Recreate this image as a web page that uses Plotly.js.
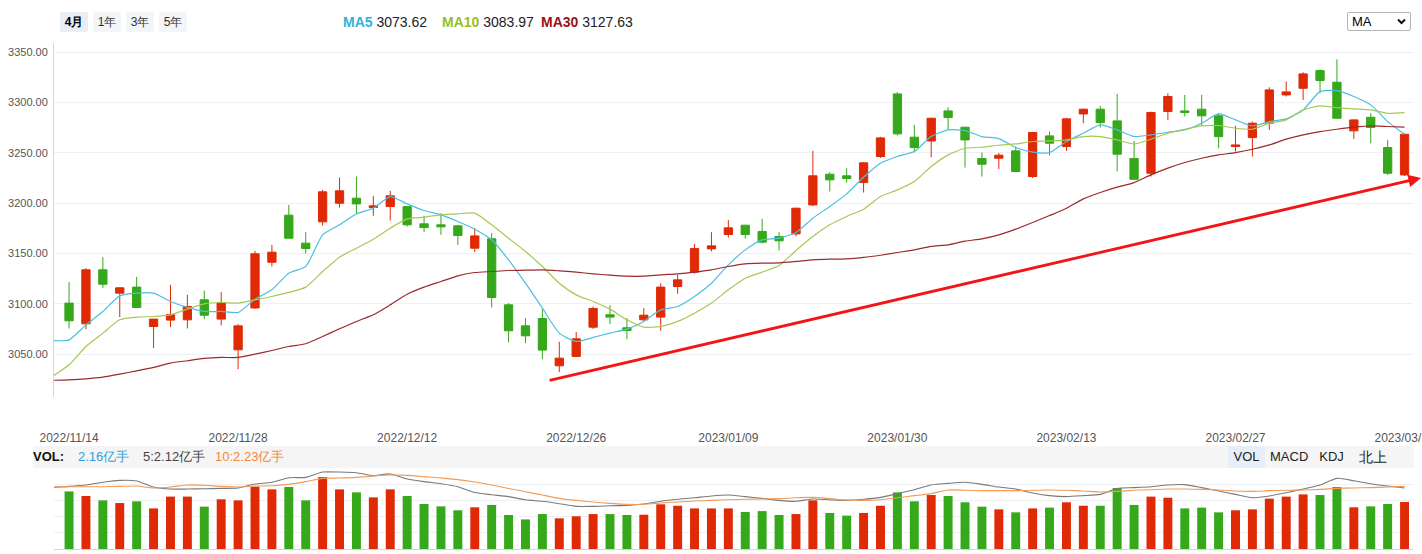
<!DOCTYPE html>
<html><head><meta charset="utf-8">
<script src="https://cdn.plot.ly/plotly-3.0.1.min.js"></script>
<style>
body{margin:0;background:#fff;font-family:"Liberation Sans",Arial,sans-serif;}
#wrap{position:relative;width:1422px;height:554px;overflow:hidden;}
#chart{position:absolute;left:0;top:0;width:1422px;height:554px;}
.ov{position:absolute;z-index:5;white-space:nowrap;}
.btn{top:12px;height:20px;line-height:20px;width:28px;text-align:center;font-size:12px;color:#333;background:#f4f5f7;border-radius:2px;}
.btn.on{background:#e8edf6;font-weight:bold;color:#000;}
.ma{top:14px;font-size:14px;color:#222;}
.ma b{font-weight:bold;}
#volbar{left:33px;top:446px;width:1381px;height:22px;background:#f5f5f5;}
.vt{top:446px;height:22px;line-height:22px;font-size:13px;}
.tb{top:446px;height:22px;line-height:22px;font-size:13px;color:#222;text-align:center;background:#f5f5f5;}
#sel{left:1347px;top:12px;width:62px;height:17px;border:1px solid #b5b5b5;border-radius:2px;background:#fff;font-size:13px;line-height:17px;}
</style></head>
<body>
<div id="wrap">
<div id="chart"></div>
<div class="ov btn on" style="left:60px;">4月</div>
<div class="ov btn" style="left:93px;">1年</div>
<div class="ov btn" style="left:126px;">3年</div>
<div class="ov btn" style="left:159px;">5年</div>
<div class="ov ma" style="left:343px;"><b style="color:#2fb2dc">MA5</b> 3073.62</div>
<div class="ov ma" style="left:442px;"><b style="color:#96c11f">MA10</b> 3083.97</div>
<div class="ov ma" style="left:541px;"><b style="color:#9b1218">MA30</b> 3127.63</div>
<div class="ov" id="sel"><span style="position:absolute;left:4px;top:0;">MA</span>
<svg style="position:absolute;left:49px;top:5px" width="9" height="7" viewBox="0 0 9 7"><path d="M1 1.5 L4.5 5 L8 1.5" stroke="#111" stroke-width="2" fill="none"/></svg></div>
<div class="ov" id="volbar"></div>
<div class="ov vt" style="left:33px;font-weight:bold;color:#111;">VOL:</div>
<div class="ov vt" style="left:78px;color:#2ea3dc;">2.16亿手</div>
<div class="ov vt" style="left:143px;color:#444;">5:2.12亿手</div>
<div class="ov vt" style="left:215px;color:#f08a3c;">10:2.23亿手</div>
<div class="ov tb" style="left:1228px;width:37px;background:#e6eef8;">VOL</div>
<div class="ov tb" style="left:1270px;width:38px;">MACD</div>
<div class="ov tb" style="left:1313px;width:37px;">KDJ</div>
<div class="ov tb" style="left:1354px;width:38px;font-size:14px;">北上</div>
</div>
<script>
// ---- data ----
const dates = ["2022/11/14","2022/11/15","2022/11/16","2022/11/17","2022/11/18","2022/11/21","2022/11/22","2022/11/23","2022/11/24","2022/11/25","2022/11/28","2022/11/29","2022/11/30","2022/12/01","2022/12/02","2022/12/05","2022/12/06","2022/12/07","2022/12/08","2022/12/09","2022/12/12","2022/12/13","2022/12/14","2022/12/15","2022/12/16","2022/12/19","2022/12/20","2022/12/21","2022/12/22","2022/12/23","2022/12/26","2022/12/27","2022/12/28","2022/12/29","2022/12/30","2023/01/03","2023/01/04","2023/01/05","2023/01/06","2023/01/09","2023/01/10","2023/01/11","2023/01/12","2023/01/13","2023/01/16","2023/01/17","2023/01/18","2023/01/19","2023/01/20","2023/01/30","2023/01/31","2023/02/01","2023/02/02","2023/02/03","2023/02/06","2023/02/07","2023/02/08","2023/02/09","2023/02/10","2023/02/13","2023/02/14","2023/02/15","2023/02/16","2023/02/17","2023/02/20","2023/02/21","2023/02/22","2023/02/23","2023/02/24","2023/02/27","2023/02/28","2023/03/01","2023/03/02","2023/03/03","2023/03/06","2023/03/07","2023/03/08","2023/03/09","2023/03/10","2023/03/13"];
const tickDates = ["2022/11/14","2022/11/28","2022/12/12","2022/12/26","2023/01/09","2023/01/30","2023/02/13","2023/02/27","2023/03/13"];

const open = [3100.7,3080.1,3133.8,3110.6,3116.6,3077.5,3083.8,3084.1,3104.0,3084.8,
3054.3,3095.9,3141.3,3188.1,3160.3,3181.5,3200.0,3205.0,3195.7,3196.7,
3196.7,3179.5,3178.5,3177.5,3155.3,3164.6,3099.0,3078.1,3085.4,3038.4,
3047.7,3076.8,3089.1,3076.2,3084.1,3086.8,3117.2,3131.5,3154.6,3168.9,
3178.1,3171.9,3166.9,3169.5,3198.3,3228.8,3227.2,3220.5,3246.4,3308.6,
3265.6,3261.9,3291.7,3275.5,3244.4,3244.7,3252.0,3226.5,3266.9,3256.3,
3288.7,3293.4,3281.8,3244.4,3229.8,3291.1,3291.7,3293.4,3286.8,3256.3,
3265.2,3279.5,3307.6,3314.2,3331.8,3320.2,3271.9,3285.4,3255.3,3228.1];
const high = [3121.5,3135.4,3146.4,3116.2,3126.8,3085.0,3118.9,3108.9,3113.2,3111.6,
3079.8,3152.6,3158.6,3198.3,3171.2,3213.2,3225.5,3226.5,3207.3,3212.3,
3197.2,3187.4,3190.0,3178.5,3175.2,3170.2,3100.7,3085.8,3095.7,3062.3,
3071.9,3097.4,3098.7,3085.8,3095.7,3120.5,3128.8,3159.6,3171.2,3183.4,
3178.5,3184.4,3171.2,3195.5,3252.0,3230.8,3234.8,3241.0,3266.0,3310.3,
3277.8,3285.0,3295.4,3276.0,3250.3,3250.0,3256.3,3271.0,3271.2,3284.8,
3294.0,3296.7,3308.6,3261.9,3291.0,3309.3,3307.6,3307.6,3289.4,3276.8,
3281.1,3315.2,3320.9,3330.1,3333.1,3343.0,3283.5,3289.4,3262.9,3269.0];
const low = [3075.5,3074.8,3115.6,3086.8,3096.0,3056.0,3076.8,3075.5,3084.8,3078.5,
3035.0,3095.0,3137.1,3165.0,3150.0,3177.8,3195.7,3190.1,3187.4,3182.8,
3176.8,3171.2,3168.5,3158.6,3151.3,3096.4,3061.6,3060.9,3045.0,3032.1,
3047.0,3075.0,3079.8,3064.9,3083.0,3073.2,3109.9,3130.0,3152.0,3165.9,
3164.8,3160.0,3153.0,3167.0,3197.0,3211.6,3220.5,3210.6,3245.0,3267.2,
3250.7,3245.7,3272.8,3235.4,3226.5,3233.8,3231.0,3225.0,3247.4,3252.0,
3279.5,3275.2,3231.5,3223.0,3226.5,3282.8,3286.1,3276.8,3254.6,3251.3,
3246.4,3272.8,3306.0,3302.6,3309.3,3284.0,3263.9,3259.6,3228.0,3227.0];
const close = [3083.1,3133.8,3119.5,3115.9,3096.4,3084.8,3089.3,3097.4,3088.7,3101.0,
3078.1,3149.7,3151.3,3165.2,3155.0,3211.3,3212.3,3199.3,3197.4,3207.3,
3178.5,3175.8,3176.5,3167.9,3167.5,3106.3,3073.2,3068.2,3054.0,3046.0,
3065.2,3095.4,3086.8,3073.5,3088.7,3116.6,3123.8,3155.0,3157.6,3175.5,
3168.9,3161.3,3162.6,3195.0,3227.2,3223.2,3224.5,3240.1,3264.9,3268.9,
3255.3,3284.4,3285.1,3262.9,3238.7,3247.7,3231.5,3270.2,3259.6,3283.8,
3293.4,3280.1,3248.7,3223.8,3290.1,3306.0,3290.1,3286.8,3266.2,3257.9,
3279.5,3312.6,3310.6,3328.5,3321.9,3284.4,3282.8,3275.2,3229.8,3268.5];

// moving-average lines as drawn (first value = previous session 2022/11/11)
const ma5 = [3063.5,3064.2,3079.1,3092.4,3107.9,3110.6,3110.6,3102.3,3096.4,3092.4,3092.4,
3091.4,3104.6,3113.9,3130.5,3137.1,3168.5,3178.5,3189.4,3195.0,3206.6,
3199.3,3192.7,3188.4,3181.8,3174.2,3163.6,3143.7,3120.5,3095.7,3070.9,
3062.6,3066.6,3070.9,3074.8,3082.5,3094.0,3097.4,3107.3,3120.5,3138.7,
3153.6,3163.6,3165.2,3170.9,3185.1,3196.7,3209.3,3225.8,3239.7,3246.4,
3251.3,3266.2,3272.8,3272.1,3266.2,3264.2,3255.3,3250.7,3250.3,3261.3,
3269.5,3277.8,3272.8,3266.2,3267.9,3270.5,3272.8,3279.5,3288.7,3282.8,
3276.8,3281.1,3283.8,3292.7,3310.9,3311.9,3306.0,3297.7,3281.1,3268.5];
const ma10 = [3027.5,3039.4,3057.6,3070.9,3084.1,3086.8,3087.4,3089.1,3094.7,3100.0,3101.3,
3100.7,3104.0,3107.3,3111.3,3116.6,3132.1,3146.4,3155.3,3164.2,3175.2,
3184.4,3186.1,3188.4,3189.4,3190.1,3178.5,3165.2,3152.0,3137.1,3120.5,
3108.9,3102.3,3094.7,3084.1,3076.8,3077.5,3082.5,3090.7,3100.7,3113.9,
3125.5,3131.5,3138.1,3153.0,3166.9,3178.5,3186.8,3194.0,3206.6,3213.2,
3221.5,3236.4,3248.0,3254.6,3255.6,3257.6,3258.9,3261.3,3261.9,3262.9,
3266.2,3266.2,3262.9,3258.9,3263.6,3269.5,3273.5,3276.8,3277.2,3274.5,
3273.5,3279.5,3282.8,3292.7,3296.7,3295.0,3293.7,3292.7,3289.4,3290.1];
const ma30 = [3024.0,3024.5,3025.5,3027.2,3030.1,3033.4,3036.8,3041.1,3043.4,3045.7,3046.7,
3046.7,3050.0,3053.6,3057.6,3060.3,3067.5,3075.2,3082.5,3089.1,3099.0,
3109.6,3116.6,3122.2,3127.8,3131.1,3132.1,3133.1,3133.4,3133.8,3132.8,
3131.5,3129.8,3128.5,3127.5,3127.5,3128.8,3129.8,3131.5,3133.8,3137.1,
3139.7,3140.4,3140.7,3142.1,3143.7,3144.4,3144.7,3146.1,3148.3,3151.0,
3153.6,3157.0,3158.6,3162.3,3164.6,3168.5,3174.2,3180.8,3187.7,3195.0,
3204.3,3210.6,3215.9,3220.5,3228.1,3234.8,3240.4,3244.7,3248.0,3250.3,
3253.6,3257.9,3263.6,3267.9,3271.2,3273.5,3275.5,3276.8,3276.2,3275.5];

// volume (亿手)
const volume = [3.66,3.37,3.09,2.92,3.03,2.58,3.33,3.33,2.69,3.16,
3.09,3.96,3.79,3.94,3.09,4.57,3.79,3.60,3.28,3.79,
3.37,2.86,2.71,2.46,2.65,2.80,2.16,1.88,2.22,1.95,
2.08,2.22,2.22,2.16,2.18,2.84,2.75,2.58,2.58,2.58,
2.35,2.41,2.16,2.22,3.09,2.29,2.12,2.29,2.75,3.60,
3.03,3.43,3.37,2.97,2.69,2.52,2.33,2.58,2.63,2.97,
2.75,2.75,3.88,2.80,3.33,3.26,2.58,2.63,2.33,2.46,
2.52,3.20,3.33,3.47,3.43,3.94,2.65,2.71,2.86,2.99];
const volMa5 = [3.92,3.98,4.07,4.24,4.36,4.32,3.94,3.81,3.81,3.83,3.85,
3.88,4.13,4.24,4.53,4.55,4.89,4.89,4.85,4.66,4.77,
4.45,4.28,4.15,3.96,3.59,3.45,3.33,3.13,3.03,2.88,
2.71,2.71,2.75,2.77,2.86,3.03,3.16,3.26,3.37,3.43,
3.33,3.22,3.09,3.03,3.18,3.13,3.09,3.16,3.28,3.52,
3.77,4.07,4.17,4.24,4.11,3.94,3.81,3.56,3.39,3.33,
3.39,3.47,3.85,3.90,3.96,4.07,4.09,3.90,3.69,3.47,
3.26,3.37,3.58,3.81,4.07,4.49,4.34,4.15,4.00,3.88];
const volMa10 = [3.96,3.96,3.96,3.96,3.98,4.00,3.88,3.94,4.07,4.05,3.98,
3.94,4.00,4.02,4.11,4.28,4.49,4.51,4.55,4.64,4.70,
4.68,4.60,4.51,4.41,4.26,4.07,3.85,3.64,3.43,3.22,
3.09,2.99,2.90,2.84,2.84,2.92,2.99,3.05,3.09,3.13,
3.16,3.18,3.20,3.26,3.28,3.20,3.11,3.09,3.13,3.26,
3.39,3.52,3.75,3.73,3.71,3.71,3.71,3.73,3.75,3.73,
3.69,3.62,3.66,3.73,3.77,3.81,3.81,3.79,3.75,3.69,
3.66,3.71,3.73,3.75,3.79,3.85,3.88,3.90,3.94,3.98];

// trend arrow annotation (session index, price)
const arrowFrom = {i: 28.34, price: 3023.6};
const arrowTo = {i: 80.0, price: 3225.1};

// ---- build ----
const UP = '#e02a05', DOWN = '#35a81b';
const idx = dates.map((d, i) => i);
const lineX = [-1].concat(idx);
const volColors = idx.map(i => close[i] >= open[i] ? UP : DOWN);
const tickvals = tickDates.map(d => dates.indexOf(d));

const W = 1422, H = 554, M = {l: 54, r: 9, t: 43, b: 5};
const plotW = W - M.l - M.r, plotH = H - M.t - M.b;
const xRange = [-0.89, 79.5];
const yRange = [3007.4, 3359.2];
const yDom = [0.3004, 1];
const vRange = [0, 5.02];

const toPaperX = i => (i - xRange[0]) / (xRange[1] - xRange[0]);
const toPaperY = p => yDom[0] + (p - yRange[0]) / (yRange[1] - yRange[0]) * (yDom[1] - yDom[0]);
const pxX = plotW / (xRange[1] - xRange[0]);
const pxY = plotH * (yDom[1] - yDom[0]) / (yRange[1] - yRange[0]);

const font = "Liberation Sans, Arial, sans-serif";
const traces = [
  {type: 'candlestick', x: idx, open: open, high: high, low: low, close: close,
   xaxis: 'x', yaxis: 'y', whiskerwidth: 0,
   increasing: {line: {color: UP, width: 1}, fillcolor: UP},
   decreasing: {line: {color: DOWN, width: 1}, fillcolor: DOWN},
   hoverinfo: 'skip'},
  {type: 'scatter', mode: 'lines', x: lineX, y: ma5, line: {color: '#4cbfe0', width: 1.2, shape: 'spline', smoothing: 0.6}, hoverinfo: 'skip'},
  {type: 'scatter', mode: 'lines', x: lineX, y: ma10, line: {color: '#a5c954', width: 1.2, shape: 'spline', smoothing: 0.6}, hoverinfo: 'skip'},
  {type: 'scatter', mode: 'lines', x: lineX, y: ma30, line: {color: '#9c2a2c', width: 1.2, shape: 'spline', smoothing: 0.6}, hoverinfo: 'skip'},
  {type: 'bar', x: idx, y: volume, xaxis: 'x2', yaxis: 'y2', width: 0.53,
   marker: {color: volColors, line: {width: 0}}, hoverinfo: 'skip'},
  {type: 'scatter', mode: 'lines', x: lineX, y: volMa5, xaxis: 'x2', yaxis: 'y2', line: {color: '#7a7a7a', width: 1.1, shape: 'spline', smoothing: 0.6}, hoverinfo: 'skip'},
  {type: 'scatter', mode: 'lines', x: lineX, y: volMa10, xaxis: 'x2', yaxis: 'y2', line: {color: '#f39a55', width: 1.1, shape: 'spline', smoothing: 0.6}, hoverinfo: 'skip'}
];

const layout = {
  width: W, height: H, margin: M, showlegend: false,
  paper_bgcolor: '#fff', plot_bgcolor: '#fff',
  font: {family: font, size: 11, color: '#555'},
  xaxis: {range: xRange, anchor: 'y', domain: [0, 1], rangeslider: {visible: false},
    tickmode: 'array', tickvals: tickvals, ticktext: tickDates, ticklabeloverflow: 'allow',
    showgrid: false, showline: false, zeroline: false, ticks: '',
    ticklabelstandoff: 32, tickfont: {size: 12, color: '#555', family: font}},
  yaxis: {range: yRange, domain: yDom, anchor: 'x',
    tickmode: 'array', tickvals: [3050, 3100, 3150, 3200, 3250, 3300, 3350],
    tickformat: '.2f', showline: true, linecolor: '#ccd6eb', linewidth: 1,
    gridcolor: '#eef0f3', zeroline: false, ticks: '', ticklabelstandoff: 3,
    tickfont: {size: 11, color: '#555', family: font}},
  xaxis2: {range: xRange, anchor: 'y2', domain: [0, 1], showticklabels: false,
    showgrid: false, showline: true, linecolor: '#ccd6eb', zeroline: false, ticks: ''},
  yaxis2: {range: vRange, domain: [0, 0.1561], anchor: 'x2', tick0: 0, dtick: 1.03,
    showticklabels: false, gridcolor: '#eef0f3', zeroline: false, showline: false, ticks: ''},
  annotations: [{
    xref: 'paper', yref: 'paper', x: toPaperX(arrowTo.i), y: toPaperY(arrowTo.price),
    axref: 'pixel', ayref: 'pixel',
    ax: (arrowFrom.i - arrowTo.i) * pxX, ay: -(arrowFrom.price - arrowTo.price) * pxY,
    text: '', showarrow: true, arrowhead: 2, arrowsize: 0.9, arrowwidth: 2.8,
    arrowcolor: '#f41414', standoff: 0
  }]
};

Plotly.newPlot('chart', traces, layout, {staticPlot: true, displayModeBar: false});
</script>
</body></html>
